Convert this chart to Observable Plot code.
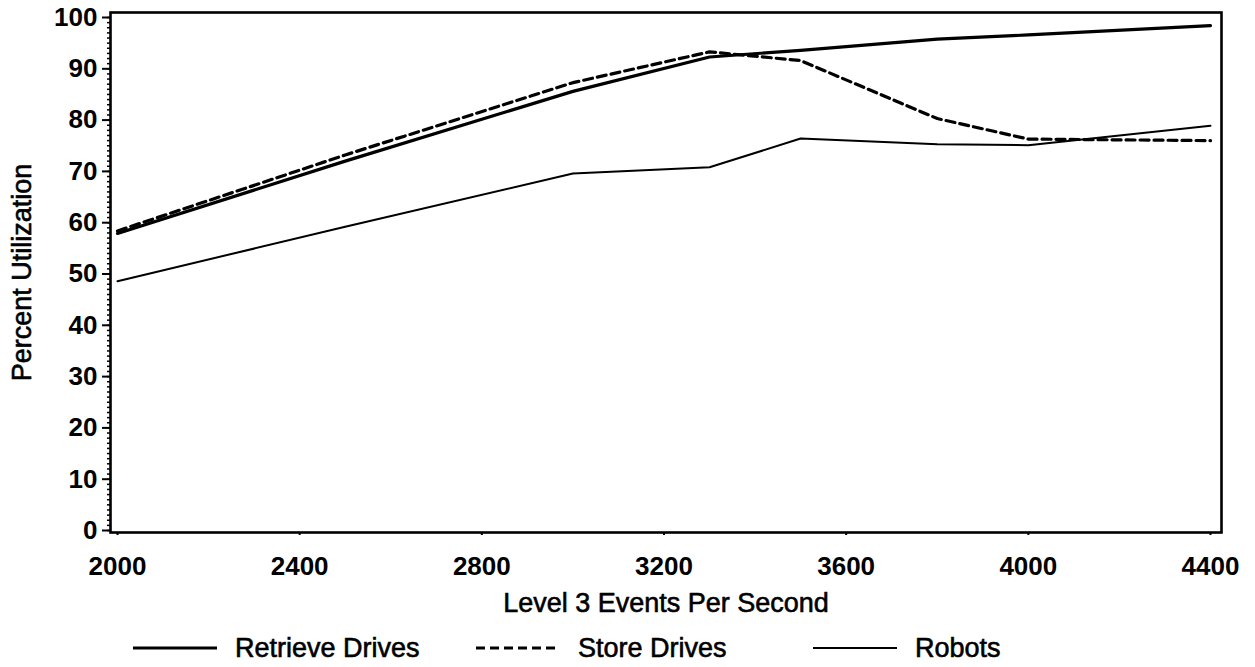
<!DOCTYPE html>
<html>
<head>
<meta charset="utf-8">
<script src="https://cdn.jsdelivr.net/npm/d3@7"></script>
<script src="https://cdn.jsdelivr.net/npm/@observablehq/plot@0.6"></script>
<style>
  body { margin: 0; background: #fff; font-family: "Liberation Sans", Arial, sans-serif; }
  #legend { position: relative; width: 1255px; height: 42px; }
  .item { position: absolute; top: 0; height: 46px; display: flex; align-items: center; font-size: 27px; color: #000; white-space: nowrap; -webkit-text-stroke: 0.6px #000; }
  .item svg { margin-right: 18px; }
</style>
</head>
<body>
<div id="chart"></div>
<div id="legend"></div>
<script>
// Level 3 events per second (x) and percent utilization of each resource (y)
const events = [2000, 2500, 3000, 3300, 3500, 3800, 4000, 4400];
const retrieveDrives = [57.9, 72.0, 85.6, 92.3, 93.6, 95.8, 96.6, 98.4];
const storeDrives = [58.4, 73.2, 87.3, 93.3, 91.6, 80.3, 76.3, 76.0];
const robots = [48.6, 59.2, 69.6, 70.8, 76.4, 75.3, 75.1, 78.9];

const seriesNames = ["Retrieve Drives", "Store Drives", "Robots"];
const xTicks = [2000, 2400, 2800, 3200, 3600, 4000, 4400];
const yTicks = [0, 10, 20, 30, 40, 50, 60, 70, 80, 90, 100];
const yMinorTicks = d3.range(0, 101, 1);

const xTitle = "Level 3 Events Per Second";
const yTitle = "Percent Utilization";

// line style per series
const lineStyles = {
  "Retrieve Drives": { strokeWidth: 3.2, dash: null },
  "Store Drives": { strokeWidth: 3.2, dash: "9,5" },
  "Robots": { strokeWidth: 2, dash: null }
};

const seriesValues = [retrieveDrives, storeDrives, robots];
const rows = seriesNames.flatMap((name, i) =>
  events.map((x, j) => ({ series: name, x, y: seriesValues[i][j] }))
);

const font = "'Liberation Sans', Arial, sans-serif";

const chart = Plot.plot({
  width: 1255,
  height: 625,
  marginLeft: 110,
  marginRight: 34,
  marginTop: 12,
  marginBottom: 93,
  style: { fontFamily: font, background: "#fff", color: "#000", overflow: "visible" },
  x: { type: "linear", domain: [2000, 4400], insetLeft: 7, insetRight: 11 },
  y: { type: "linear", domain: [0, 100], insetTop: 5, insetBottom: 2 },
  marks: [
    Plot.axisY(yMinorTicks, { tickSize: 3, text: null, label: null, strokeWidth: 1.5 }),
    Plot.axisY(yTicks, {
      tickSize: 8, tickPadding: 5, fontSize: 26, fontWeight: "bold",
      label: null, strokeWidth: 2, tickFormat: d => String(d)
    }),
    Plot.axisX(xTicks, {
      tickSize: 3, tickPadding: 21, fontSize: 26, fontWeight: "bold",
      label: null, strokeWidth: 2, tickFormat: d => String(d)
    }),
    Plot.frame({ stroke: "#000", strokeWidth: 2.6 }),
    ...seriesNames.map(name =>
      Plot.line(rows.filter(d => d.series === name), {
        x: "x",
        y: "y",
        stroke: "#000",
        strokeWidth: lineStyles[name].strokeWidth,
        strokeDasharray: lineStyles[name].dash,
        strokeLinejoin: "round"
      })
    ),
    Plot.text([yTitle], {
      text: d => d, frameAnchor: "left", dx: -88, rotate: -90,
      fontSize: 27, lineAnchor: "middle", textAnchor: "middle",
      fill: "#000", stroke: "#000", strokeWidth: 0.6
    }),
    Plot.text([xTitle], {
      text: d => d, frameAnchor: "bottom", dy: 71,
      fontSize: 27, lineAnchor: "middle", textAnchor: "middle",
      fill: "#000", stroke: "#000", strokeWidth: 0.6
    })
  ]
});
document.getElementById("chart").appendChild(chart);

// legend below the chart
const legendLeft = { "Retrieve Drives": 133, "Store Drives": 476, "Robots": 813 };
const legend = d3.select("#legend");
seriesNames.forEach(name => {
  const item = legend.append("div").attr("class", "item").style("left", legendLeft[name] + "px");
  const s = item.append("svg").attr("width", 84).attr("height", 10);
  s.append("line")
    .attr("x1", 0).attr("x2", 84).attr("y1", 5).attr("y2", 5)
    .attr("stroke", "#000")
    .attr("stroke-width", lineStyles[name].strokeWidth)
    .attr("stroke-dasharray", lineStyles[name].dash);
  item.append("span").text(name);
});
</script>
</body>
</html>
